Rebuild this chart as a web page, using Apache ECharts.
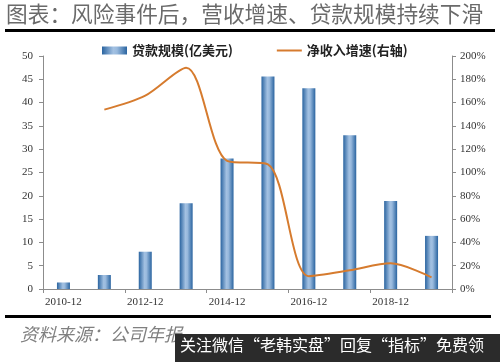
<!DOCTYPE html>
<html><head><meta charset="utf-8">
<script src="https://cdn.jsdelivr.net/npm/echarts@6/dist/echarts.min.js"></script>
<style>html,body{margin:0;padding:0;background:#fff}#c{width:500px;height:362px}</style>
</head><body><div id="c"></div>
<script>
var categories = ['2010-12','2011-12','2012-12','2013-12','2014-12','2015-12','2016-12','2017-12','2018-12','2019-12'];
var loanScale = [1.4, 3.0, 8.0, 18.4, 28.0, 45.6, 43.1, 33.0, 18.9, 11.4];
var netIncomeGrowth = [null, 154, 166, 190, 110, 107, 11, 16, 22, 10];
var leftTicks = [0, 50, 5];
var rightTicks = [0, 200, 20];

var chart = echarts.init(document.getElementById('c'));
var serif = '"Liberation Serif","DejaVu Serif",serif';
var cjk = '"Noto Sans CJK SC","Noto Sans",sans-serif';
var barGrad = new echarts.graphic.LinearGradient(0,0,1,0,[
  {offset:0,color:'#2a64a0'},{offset:0.45,color:'#a3c1e2'},{offset:0.6,color:'#98b9dd'},{offset:1,color:'#2a64a0'}]);
chart.setOption({
  animation:false,
  grid:{left:43,right:48,top:56,bottom:73},
  legend:{
    top:39,left:97,itemGap:44,itemWidth:25,itemHeight:8,
    textStyle:{fontFamily:cjk,fontSize:13,fontWeight:'bold',color:'#222'},
    data:[{name:'贷款规模(亿美元)',icon:'rect'},{name:'净收入增速(右轴)',icon:'path://M0 0H50V4H0Z'}]
  },
  xAxis:{
    type:'category',data:categories,boundaryGap:true,
    axisLine:{lineStyle:{color:'#8c8c8c'}},
    axisTick:{show:true,lineStyle:{color:'#8c8c8c'},length:4},
    axisLabel:{interval:1,fontFamily:serif,fontSize:11,color:'#333',margin:8}
  },
  yAxis:[{
    type:'value',min:leftTicks[0],max:leftTicks[1],interval:leftTicks[2],
    axisLine:{show:true,lineStyle:{color:'#8c8c8c'}},
    axisTick:{show:true,length:4,lineStyle:{color:'#8c8c8c'}},
    splitLine:{show:false},
    axisLabel:{fontFamily:serif,fontSize:11,color:'#333',margin:10}
  },{
    type:'value',min:rightTicks[0],max:rightTicks[1],interval:rightTicks[2],
    axisLine:{show:true,lineStyle:{color:'#8c8c8c'}},
    axisTick:{show:true,length:4,lineStyle:{color:'#8c8c8c'}},
    splitLine:{show:false},
    axisLabel:{fontFamily:serif,fontSize:11,color:'#333',margin:8,formatter:'{value}%'}
  }],
  series:[{
    name:'贷款规模(亿美元)',type:'bar',data:loanScale,barWidth:13,yAxisIndex:0,
    itemStyle:{color:barGrad}
  },{
    name:'净收入增速(右轴)',type:'line',data:netIncomeGrowth,yAxisIndex:1,smooth:0.3,
    symbol:'none',showSymbol:false,connectNulls:false,
    lineStyle:{color:'#d67b2e',width:2},itemStyle:{color:'#d67b2e'}
  }],
  graphic:[
    {type:'text',left:6,top:3,style:{text:'图表：风险事件后，营收增速、贷款规模持续下滑',font:'21.7px '+cjk,fill:'#6a6a6a'}},
    {type:'rect',shape:{x:5,y:29,width:490,height:3},style:{fill:'#000'}},
    {type:'rect',shape:{x:5,y:315,width:486,height:3},style:{fill:'#000'}},
    {type:'text',left:20,top:325,style:{text:'资料来源：公司年报',font:'italic 18px '+cjk,fill:'#808080'}},
    {type:'rect',shape:{x:175,y:334,width:325,height:28},style:{fill:'#2b2b2b'}},
    {type:'text',left:180,top:337,style:{text:'关注微信“老韩实盘”回复“指标”免费领',font:'16px '+cjk,fill:'#fff'}}
  ]
});
</script></body></html>
